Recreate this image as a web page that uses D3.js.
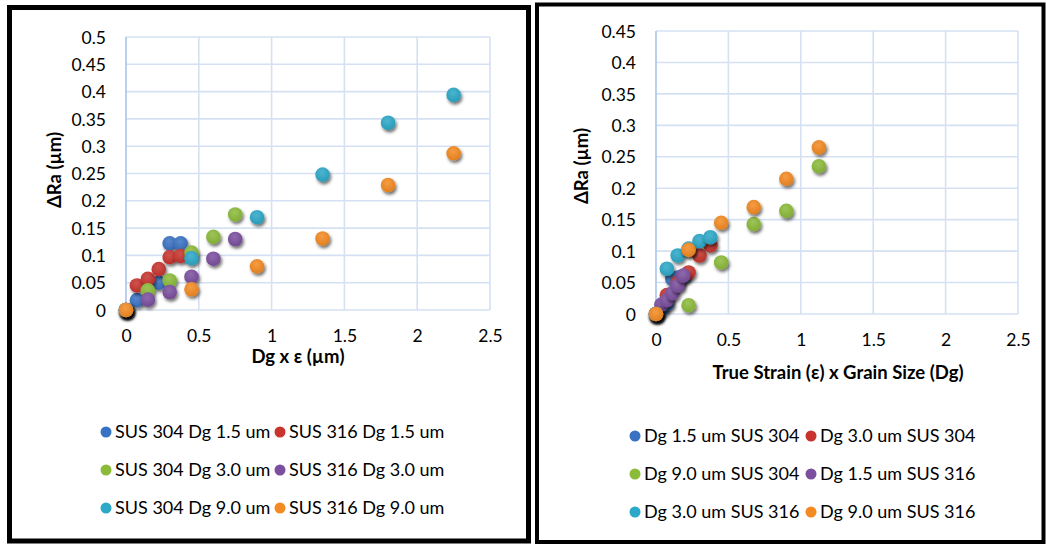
<!DOCTYPE html>
<html><head><meta charset="utf-8">
<script src="https://cdn.jsdelivr.net/npm/d3@7"></script>
<style>body{margin:0;background:#fff}svg{display:block}text{font-family:Lato,"Open Sans",sans-serif;fill:#000}</style>
</head><body><svg id="c" width="1046" height="544"></svg>
<script>
// ---------- DATA ----------
const colors = ["#3A72C3", "#C8332E", "#8CBB3A", "#7B4E9F", "#2CA8C8", "#F48A22"];

// Left chart
const leftSeries = ["SUS 304 Dg 1.5 um","SUS 316 Dg 1.5 um","SUS 304 Dg 3.0 um","SUS 316 Dg 3.0 um","SUS 304 Dg 9.0 um","SUS 316 Dg 9.0 um"];
const leftX = [
  [0, 0.075, 0.225, 0.3, 0.375],
  [0, 0.075, 0.15, 0.225, 0.3, 0.375],
  [0, 0.15, 0.3, 0.45, 0.6, 0.75],
  [0, 0.15, 0.3, 0.45, 0.6, 0.75],
  [0, 0.45, 0.9, 1.35, 1.8, 2.25],
  [0, 0.45, 0.9, 1.35, 1.8, 2.25]
];
const leftY = [
  [0, 0.018, 0.05, 0.122, 0.122],
  [0, 0.045, 0.057, 0.075, 0.097, 0.099],
  [0, 0.036, 0.054, 0.105, 0.134, 0.175],
  [0, 0.019, 0.033, 0.061, 0.094, 0.13],
  [0, 0.095, 0.17, 0.248, 0.343, 0.394],
  [0, 0.038, 0.08, 0.131, 0.229, 0.287]
];
const leftXTicks = [0, 0.5, 1, 1.5, 2, 2.5];
const leftYTicks = [0, 0.05, 0.1, 0.15, 0.2, 0.25, 0.3, 0.35, 0.4, 0.45, 0.5];

// Right chart
const rightSeries = ["Dg 1.5 um SUS 304","Dg 3.0 um SUS 304","Dg 9.0 um SUS 304","Dg 1.5 um SUS 316","Dg 3.0 um SUS 316","Dg 9.0 um SUS 316"];
const rightX = [
  [0, 0.0375, 0.075, 0.1125, 0.15, 0.1875],
  [0, 0.075, 0.15, 0.225, 0.3, 0.375],
  [0, 0.225, 0.45, 0.675, 0.9, 1.125],
  [0, 0.0375, 0.075, 0.1125, 0.15, 0.1875],
  [0, 0.075, 0.15, 0.225, 0.3, 0.375],
  [0, 0.225, 0.45, 0.675, 0.9, 1.125]
];
const rightY = [
  [0, 0.008, 0.016, 0.056, 0.058, 0.06],
  [0, 0.03, 0.05, 0.066, 0.093, 0.109],
  [0, 0.014, 0.082, 0.143, 0.164, 0.235],
  [0, 0.015, 0.022, 0.033, 0.045, 0.061],
  [0, 0.072, 0.093, 0.104, 0.116, 0.122],
  [0, 0.102, 0.145, 0.17, 0.215, 0.265]
];
const rightXTicks = [0, 0.5, 1, 1.5, 2, 2.5];
const rightYTicks = [0, 0.05, 0.1, 0.15, 0.2, 0.25, 0.3, 0.35, 0.4, 0.45];

// ---------- DRAW ----------
const svg = d3.select("#c");
const defs = svg.append("defs");
const f = defs.append("filter").attr("id","sh").attr("x","-50%").attr("y","-50%").attr("width","200%").attr("height","200%");
f.append("feDropShadow").attr("dx",1.5).attr("dy",2.5).attr("stdDeviation",1.6).attr("flood-color","#000").attr("flood-opacity",0.55);
colors.forEach((c,i)=>{
  const g = defs.append("radialGradient").attr("id","g"+i).attr("cx","45%").attr("cy","35%").attr("r","65%");
  g.append("stop").attr("offset","0%").attr("stop-color",d3.interpolateRgb(c,"#fff")(0.15));
  g.append("stop").attr("offset","100%").attr("stop-color",d3.interpolateRgb(c,"#000")(0.08));
});

// frames
svg.append("rect").attr("x",9.5).attr("y",7.5).attr("width",519).attr("height",533.5)
  .attr("fill","none").attr("stroke","#000").attr("stroke-width",5);
svg.append("rect").attr("x",537).attr("y",4.5).attr("width",506.5).attr("height",537.5)
  .attr("fill","none").attr("stroke","#000").attr("stroke-width",4);

function chart(cfg){
  const x = d3.scaleLinear().domain([0,2.5]).range(cfg.xr);
  const y = d3.scaleLinear().domain([0,cfg.ymax]).range(cfg.yr);
  const g = svg.append("g");
  // grid
  g.selectAll(".hg").data(cfg.yTicks).join("line")
    .attr("x1",x(0)).attr("x2",x(2.5)).attr("y1",d=>y(d)).attr("y2",d=>y(d))
    .attr("stroke","#D5E1F2").attr("stroke-width",1.6);
  g.selectAll(".vg").data(cfg.xTicks).join("line")
    .attr("y1",y(0)).attr("y2",y(cfg.ymax)).attr("x1",d=>x(d)).attr("x2",d=>x(d))
    .attr("stroke",d=>d===0?"#A9C4EA":"#D5E1F2").attr("stroke-width",1.6);
  // axes
  const ax = g.append("g").attr("transform",`translate(0,${y(0)+26})`)
    .call(d3.axisBottom(x).tickValues(cfg.xTicks).tickSize(0).tickFormat(d3.format("")));
  ax.select(".domain").remove();
  ax.selectAll("text").attr("dy","0.35em").attr("y",0).style("font-size","17.5px");
  const ay = g.append("g").attr("transform",`translate(${x(0)-20},0)`)
    .call(d3.axisLeft(y).tickValues(cfg.yTicks).tickSize(0).tickFormat(d3.format("")));
  ay.select(".domain").remove();
  ay.selectAll("text").attr("x",0).attr("dy","0.35em").style("font-size","17.5px");
  // titles
  g.append("text").attr("x",cfg.xtPos[0]).attr("y",cfg.xtPos[1]).attr("text-anchor","middle")
    .attr("dy","0.35em").style("font-size","18.5px").style("font-weight","bold").text(cfg.xTitle);
  g.append("text").attr("transform",`translate(${cfg.ytPos[0]},${cfg.ytPos[1]}) rotate(-90)`)
    .attr("text-anchor","middle").attr("dy","0.35em").style("font-size","18.5px").style("font-weight","bold").text("ΔRa (µm)");
  // points
  cfg.names.forEach((n,i)=>{
    const pts = cfg.xs[i].map((v,j)=>[v,cfg.ys[i][j]]);
    g.append("g").selectAll("circle").data(pts).join("circle")
      .attr("cx",d=>x(d[0])).attr("cy",d=>y(d[1])).attr("r",7.3)
      .attr("fill",`url(#g${i})`).attr("filter","url(#sh)");
  });
  // legend
  cfg.names.forEach((n,i)=>{
    const col = i%2, row = Math.floor(i/2);
    const lx = cfg.lg[0] + col*cfg.lg[2], ly = cfg.lg[1] + row*38;
    g.append("circle").attr("cx",lx).attr("cy",ly).attr("r",5.5).attr("fill",colors[i]);
    g.append("text").attr("x",lx+9).attr("y",ly).attr("dy","0.35em").style("font-size","18px").text(n);
  });
}

chart({xr:[126,490], yr:[310,37], ymax:0.5, xTicks:leftXTicks, yTicks:leftYTicks,
  xTitle:"Dg x ε (µm)", xtPos:[298,357], ytPos:[55,170],
  names:leftSeries, xs:leftX, ys:leftY, lg:[106,432,174]});
chart({xr:[656,1018], yr:[314,31], ymax:0.45, xTicks:rightXTicks, yTicks:rightYTicks,
  xTitle:"True Strain (ε) x Grain Size (Dg)", xtPos:[838,373], ytPos:[582,166],
  names:rightSeries, xs:rightX, ys:rightY, lg:[635,436,176]});
</script></body></html>
